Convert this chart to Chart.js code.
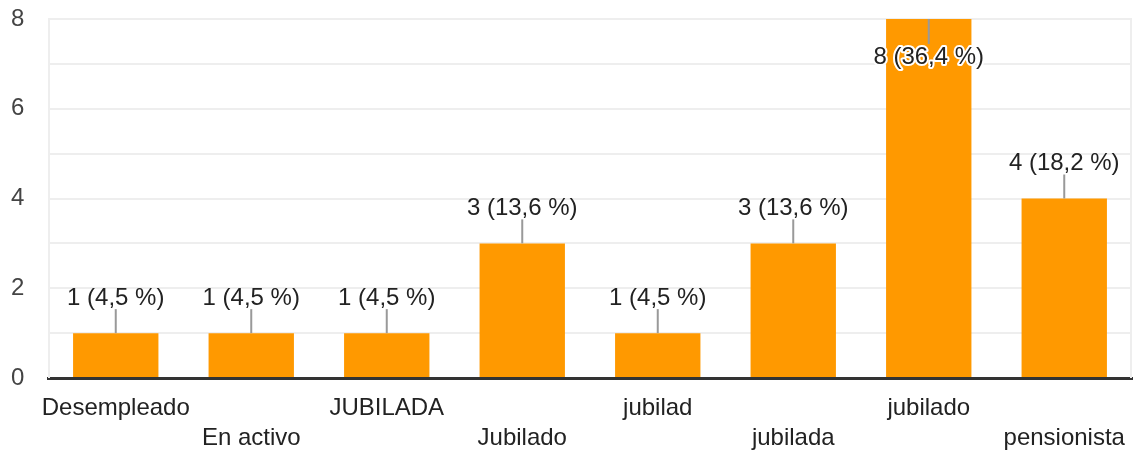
<!DOCTYPE html>
<html>
<head>
<meta charset="utf-8">
<script src="https://cdn.jsdelivr.net/npm/chart.js@4"></script>
<style>
  html, body { margin: 0; padding: 0; background: #fff; }
  #wrap { width: 1141px; height: 453px; }
</style>
</head>
<body>
<div id="wrap"><canvas id="chart"></canvas></div>
<script>
// --- data ---
const categories = ['Desempleado', 'En activo', 'JUBILADA', 'Jubilado', 'jubilad', 'jubilada', 'jubilado', 'pensionista'];
const counts = [1, 1, 1, 3, 1, 3, 8, 4];
const yTicks = [0, 2, 4, 6, 8];

const FONT = '"Liberation Sans", Arial, sans-serif';
const total = counts.reduce((a, b) => a + b, 0);

function labelFor(v) {
  const pct = (v / total * 100).toFixed(1).replace('.', ',');
  return `${v} (${pct} %)`;
}

// value labels with a little grey leader line, plus the frame edges
const barLabels = {
  id: 'barLabels',
  beforeDatasetsDraw(chart) {
    const { ctx, chartArea: a } = chart;
    ctx.save();
    ctx.strokeStyle = '#eeeeee';
    ctx.lineWidth = 2;
    ctx.beginPath();
    ctx.moveTo(a.left + 1, a.top);
    ctx.lineTo(a.left + 1, a.bottom);
    ctx.moveTo(a.right - 1, a.top);
    ctx.lineTo(a.right - 1, a.bottom);
    ctx.stroke();
    ctx.restore();
  },
  afterDatasetsDraw(chart) {
    const { ctx } = chart;
    const meta = chart.getDatasetMeta(0);
    const max = Math.max(...counts);
    ctx.save();
    ctx.font = `24px ${FONT}`;
    ctx.textAlign = 'center';
    ctx.textBaseline = 'middle';
    meta.data.forEach((bar, i) => {
      const v = counts[i];
      const txt = labelFor(v);
      const inside = v === max;
      const y0 = bar.y;
      const y1 = inside ? y0 + 25 : y0 - 24;
      const ty = inside ? y0 + 38 : y0 - 35;
      ctx.strokeStyle = '#999999';
      ctx.lineWidth = 2;
      ctx.beginPath();
      ctx.moveTo(bar.x, y0);
      ctx.lineTo(bar.x, y1);
      ctx.stroke();
      if (inside) {
        ctx.lineJoin = 'round';
        ctx.strokeStyle = '#ffffff';
        ctx.lineWidth = 4;
        ctx.strokeText(txt, bar.x, ty);
      }
      ctx.fillStyle = '#222222';
      ctx.fillText(txt, bar.x, ty);
    });
    ctx.restore();
  }
};

new Chart(document.getElementById('chart'), {
  type: 'bar',
  data: {
    labels: categories,
    datasets: [{
      data: counts,
      backgroundColor: '#ff9900',
      barPercentage: 0.63,
      categoryPercentage: 1.0
    }]
  },
  plugins: [barLabels],
  options: {
    responsive: true,
    maintainAspectRatio: false,
    animation: false,
    layout: { padding: { top: 19, right: 9, left: 11, bottom: -7 } },
    plugins: { legend: { display: false }, tooltip: { enabled: false } },
    scales: {
      x: {
        grid: { display: false },
        border: { display: true, color: '#333333', width: 3 },
        ticks: {
          color: '#222222',
          font: { family: FONT, size: 24, lineHeight: '30px' },
          maxRotation: 0,
          autoSkip: false,
          padding: 7,
          callback: (v, i) => (i % 2 === 0 ? [categories[i], ''] : ['', categories[i]])
        }
      },
      y: {
        min: 0,
        max: 8,
        afterFit: (s) => { s.width = 37; },
        grid: { color: '#eeeeee', lineWidth: 2, drawTicks: false },
        border: { display: false },
        ticks: {
          stepSize: 1,
          padding: 0,
          crossAlign: 'far',
          color: '#444444',
          font: { family: FONT, size: 24 },
          callback: (v) => (yTicks.includes(v) ? String(v) : '')
        }
      }
    }
  }
});
</script>
</body>
</html>
